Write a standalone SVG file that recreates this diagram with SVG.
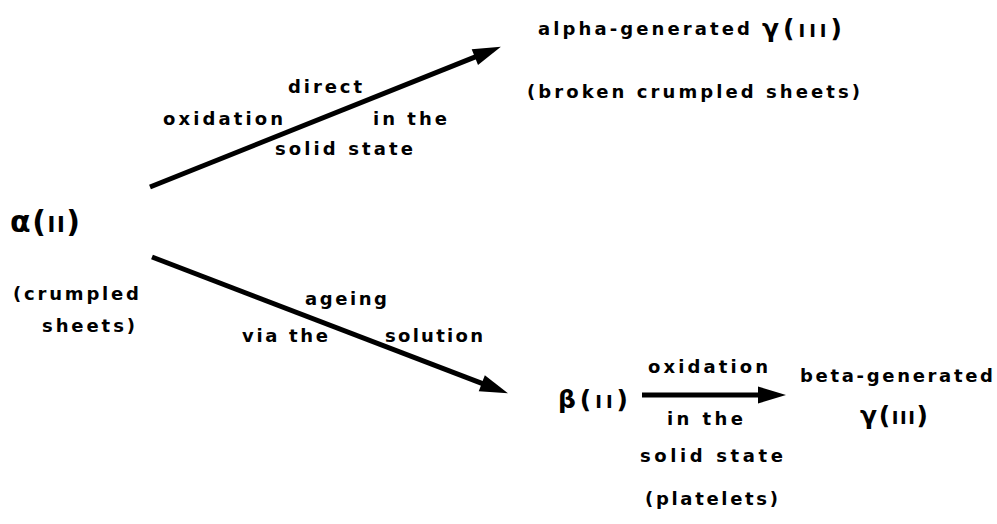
<svg xmlns="http://www.w3.org/2000/svg" width="997" height="524" viewBox="0 0 997 524">
<style>
text{font-family:"DejaVu Sans","Liberation Sans",Arial,sans-serif;font-weight:bold;fill:#000}
.lb{font-size:18px}
.big{font-size:30px}
.mid{font-size:25px}
.rn{font-size:21px}
.rn2{font-size:18px}
.conn{stroke:#000;stroke-width:5;fill:none}
</style>
<defs>
<marker id="ah" markerUnits="userSpaceOnUse" markerWidth="32" markerHeight="20" refX="12" refY="8.5" orient="auto" overflow="visible">
<path d="M0,0 L28,8.5 L0,17 Z" fill="#000"/>
</marker>
</defs>
<rect width="997" height="524" fill="#fff"/>
<g id="connectors">
<line class="conn" x1="150" y1="187" x2="486" y2="52.6" marker-end="url(#ah)"/>
<line class="conn" x1="152" y1="257" x2="493" y2="387.6" marker-end="url(#ah)"/>
<line class="conn" x1="642" y1="395" x2="770" y2="395" stroke-width="4.5" marker-end="url(#ah)"/>
</g>
<g id="node-alpha">
<text x="10" y="232" class="big" textLength="70" lengthAdjust="spacing">α(<tspan class="rn">II</tspan>)</text>
<text x="13" y="300" class="lb" textLength="126" lengthAdjust="spacing">(crumpled</text>
<text x="42" y="332" class="lb" textLength="93" lengthAdjust="spacing">sheets)</text>
</g>
<g id="node-alpha-gamma">
<text x="538" y="35" class="lb" textLength="212" lengthAdjust="spacing">alpha-generated</text>
<text x="762" y="37" class="mid" textLength="80" lengthAdjust="spacing">γ(<tspan class="rn2">III</tspan>)</text>
<text x="527" y="98" class="lb" textLength="333" lengthAdjust="spacing">(broken crumpled sheets)</text>
</g>
<g id="node-beta">
<text x="558" y="408" class="mid" textLength="70" lengthAdjust="spacing">β(<tspan class="rn2">II</tspan>)</text>
<text x="645" y="505" class="lb" textLength="133" lengthAdjust="spacing">(platelets)</text>
</g>
<g id="node-beta-gamma">
<text x="800" y="382" class="lb" textLength="193" lengthAdjust="spacing">beta-generated</text>
<text x="860" y="424" class="mid" textLength="68" lengthAdjust="spacing">γ(<tspan class="rn2">III</tspan>)</text>
</g>
<g id="edge-labels">
<text x="288" y="93" class="lb" textLength="74" lengthAdjust="spacing">direct</text>
<text x="163" y="125" class="lb" textLength="120" lengthAdjust="spacing">oxidation</text>
<text x="373" y="125" class="lb" textLength="74" lengthAdjust="spacing">in the</text>
<text x="275" y="155" class="lb" textLength="138" lengthAdjust="spacing">solid state</text>
<text x="305" y="305" class="lb" textLength="82" lengthAdjust="spacing">ageing</text>
<text x="242" y="342" class="lb" textLength="86" lengthAdjust="spacing">via the</text>
<text x="385" y="342" class="lb" textLength="98" lengthAdjust="spacing">solution</text>
<text x="648" y="373" class="lb" textLength="120" lengthAdjust="spacing">oxidation</text>
<text x="667" y="425" class="lb" textLength="76" lengthAdjust="spacing">in the</text>
<text x="640" y="462" class="lb" textLength="143" lengthAdjust="spacing">solid state</text>
</g>
</svg>
